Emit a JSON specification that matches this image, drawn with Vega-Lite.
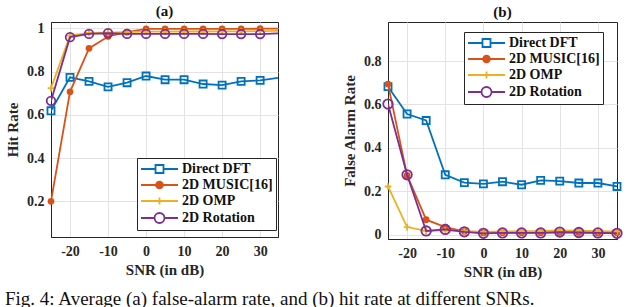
{
  "$schema": "https://vega.github.io/schema/vega-lite/v6.json",
  "padding": {"left": 5, "top": 3, "right": 0, "bottom": 0},
  "background": "white",
  "datasets": {
    "a": [
      {"snr": -25, "series": "Direct DFT", "value": 0.619},
      {"snr": -20, "series": "Direct DFT", "value": 0.774},
      {"snr": -15, "series": "Direct DFT", "value": 0.755},
      {"snr": -10, "series": "Direct DFT", "value": 0.73},
      {"snr": -5, "series": "Direct DFT", "value": 0.749},
      {"snr": 0, "series": "Direct DFT", "value": 0.78},
      {"snr": 5, "series": "Direct DFT", "value": 0.763},
      {"snr": 10, "series": "Direct DFT", "value": 0.763},
      {"snr": 15, "series": "Direct DFT", "value": 0.743},
      {"snr": 20, "series": "Direct DFT", "value": 0.738},
      {"snr": 25, "series": "Direct DFT", "value": 0.755},
      {"snr": 30, "series": "Direct DFT", "value": 0.76},
      {"snr": 35, "series": "Direct DFT", "value": 0.772},
      {"snr": -25, "series": "2D MUSIC[16]", "value": 0.2},
      {"snr": -20, "series": "2D MUSIC[16]", "value": 0.707},
      {"snr": -15, "series": "2D MUSIC[16]", "value": 0.908},
      {"snr": -10, "series": "2D MUSIC[16]", "value": 0.963},
      {"snr": -5, "series": "2D MUSIC[16]", "value": 0.983},
      {"snr": 0, "series": "2D MUSIC[16]", "value": 0.998},
      {"snr": 5, "series": "2D MUSIC[16]", "value": 0.998},
      {"snr": 10, "series": "2D MUSIC[16]", "value": 0.998},
      {"snr": 15, "series": "2D MUSIC[16]", "value": 0.998},
      {"snr": 20, "series": "2D MUSIC[16]", "value": 0.998},
      {"snr": 25, "series": "2D MUSIC[16]", "value": 0.998},
      {"snr": 30, "series": "2D MUSIC[16]", "value": 0.999},
      {"snr": 35, "series": "2D MUSIC[16]", "value": 0.999},
      {"snr": -25, "series": "2D OMP", "value": 0.724},
      {"snr": -20, "series": "2D OMP", "value": 0.967},
      {"snr": -15, "series": "2D OMP", "value": 0.979},
      {"snr": -10, "series": "2D OMP", "value": 0.981},
      {"snr": -5, "series": "2D OMP", "value": 0.983},
      {"snr": 0, "series": "2D OMP", "value": 0.985},
      {"snr": 5, "series": "2D OMP", "value": 0.985},
      {"snr": 10, "series": "2D OMP", "value": 0.986},
      {"snr": 15, "series": "2D OMP", "value": 0.986},
      {"snr": 20, "series": "2D OMP", "value": 0.987},
      {"snr": 25, "series": "2D OMP", "value": 0.987},
      {"snr": 30, "series": "2D OMP", "value": 0.988},
      {"snr": 35, "series": "2D OMP", "value": 0.989},
      {"snr": -25, "series": "2D Rotation", "value": 0.665},
      {"snr": -20, "series": "2D Rotation", "value": 0.96},
      {"snr": -15, "series": "2D Rotation", "value": 0.975},
      {"snr": -10, "series": "2D Rotation", "value": 0.978},
      {"snr": -5, "series": "2D Rotation", "value": 0.975},
      {"snr": 0, "series": "2D Rotation", "value": 0.975},
      {"snr": 5, "series": "2D Rotation", "value": 0.975},
      {"snr": 10, "series": "2D Rotation", "value": 0.975},
      {"snr": 15, "series": "2D Rotation", "value": 0.975},
      {"snr": 20, "series": "2D Rotation", "value": 0.974},
      {"snr": 25, "series": "2D Rotation", "value": 0.974},
      {"snr": 30, "series": "2D Rotation", "value": 0.974},
      {"snr": 35, "series": "2D Rotation", "value": 0.978}
    ],
    "b": [
      {"snr": -25, "series": "Direct DFT", "value": 0.682},
      {"snr": -20, "series": "Direct DFT", "value": 0.556},
      {"snr": -15, "series": "Direct DFT", "value": 0.526},
      {"snr": -10, "series": "Direct DFT", "value": 0.276},
      {"snr": -5, "series": "Direct DFT", "value": 0.24},
      {"snr": 0, "series": "Direct DFT", "value": 0.234},
      {"snr": 5, "series": "Direct DFT", "value": 0.244},
      {"snr": 10, "series": "Direct DFT", "value": 0.23},
      {"snr": 15, "series": "Direct DFT", "value": 0.25},
      {"snr": 20, "series": "Direct DFT", "value": 0.247},
      {"snr": 25, "series": "Direct DFT", "value": 0.238},
      {"snr": 30, "series": "Direct DFT", "value": 0.238},
      {"snr": 35, "series": "Direct DFT", "value": 0.222},
      {"snr": -25, "series": "2D MUSIC[16]", "value": 0.694},
      {"snr": -20, "series": "2D MUSIC[16]", "value": 0.273},
      {"snr": -15, "series": "2D MUSIC[16]", "value": 0.069},
      {"snr": -10, "series": "2D MUSIC[16]", "value": 0.035},
      {"snr": -5, "series": "2D MUSIC[16]", "value": 0.015},
      {"snr": 0, "series": "2D MUSIC[16]", "value": 0.008},
      {"snr": 5, "series": "2D MUSIC[16]", "value": 0.009},
      {"snr": 10, "series": "2D MUSIC[16]", "value": 0.009},
      {"snr": 15, "series": "2D MUSIC[16]", "value": 0.009},
      {"snr": 20, "series": "2D MUSIC[16]", "value": 0.011},
      {"snr": 25, "series": "2D MUSIC[16]", "value": 0.01},
      {"snr": 30, "series": "2D MUSIC[16]", "value": 0.008},
      {"snr": 35, "series": "2D MUSIC[16]", "value": 0.008},
      {"snr": -25, "series": "2D OMP", "value": 0.222},
      {"snr": -20, "series": "2D OMP", "value": 0.035},
      {"snr": -15, "series": "2D OMP", "value": 0.017},
      {"snr": -10, "series": "2D OMP", "value": 0.02},
      {"snr": -5, "series": "2D OMP", "value": 0.017},
      {"snr": 0, "series": "2D OMP", "value": 0.013},
      {"snr": 5, "series": "2D OMP", "value": 0.015},
      {"snr": 10, "series": "2D OMP", "value": 0.016},
      {"snr": 15, "series": "2D OMP", "value": 0.017},
      {"snr": 20, "series": "2D OMP", "value": 0.02},
      {"snr": 25, "series": "2D OMP", "value": 0.018},
      {"snr": 30, "series": "2D OMP", "value": 0.016},
      {"snr": 35, "series": "2D OMP", "value": 0.015},
      {"snr": -25, "series": "2D Rotation", "value": 0.602},
      {"snr": -20, "series": "2D Rotation", "value": 0.276},
      {"snr": -15, "series": "2D Rotation", "value": 0.017},
      {"snr": -10, "series": "2D Rotation", "value": 0.024},
      {"snr": -5, "series": "2D Rotation", "value": 0.013},
      {"snr": 0, "series": "2D Rotation", "value": 0.006},
      {"snr": 5, "series": "2D Rotation", "value": 0.008},
      {"snr": 10, "series": "2D Rotation", "value": 0.008},
      {"snr": 15, "series": "2D Rotation", "value": 0.008},
      {"snr": 20, "series": "2D Rotation", "value": 0.012},
      {"snr": 25, "series": "2D Rotation", "value": 0.01},
      {"snr": 30, "series": "2D Rotation", "value": 0.008},
      {"snr": 35, "series": "2D Rotation", "value": 0.006}
    ]
  },
  "title": {
    "text": "Fig. 4: Average (a) false-alarm rate, and (b) hit rate at different SNRs.",
    "orient": "bottom",
    "anchor": "start",
    "font": "Liberation Serif",
    "fontSize": 19,
    "fontWeight": "normal",
    "color": "#111",
    "offset": 10
  },
  "config": {
    "font": "Liberation Serif",
    "view": {"stroke": "#262626", "strokeWidth": 1},
    "axis": {
      "labelFont": "Liberation Serif",
      "labelFontSize": 14,
      "labelFontWeight": "bold",
      "labelColor": "#262626",
      "titleFont": "Liberation Serif",
      "titleFontSize": 15,
      "titleFontWeight": "bold",
      "titleColor": "#262626",
      "domainColor": "#262626",
      "tickColor": "#262626",
      "tickSize": 0,
      "gridColor": "#e3e3e3",
      "gridWidth": 1,
      "labelPadding": 7
    },
    "title": {"font": "Liberation Serif", "fontSize": 15, "fontWeight": "bold", "color": "#111", "offset": 2},
    "legend": {
      "labelFont": "Liberation Serif",
      "labelFontSize": 14,
      "labelFontWeight": "bold",
      "labelColor": "#111",
      "fillColor": "white",
      "strokeColor": "#262626",
      "padding": 3,
      "rowPadding": 0,
      "symbolSize": 196,
      "symbolStrokeWidth": 1.8,
      "symbolOpacity": 1,
      "labelOffset": 26,
      "title": null
    }
  },
  "spacing": 50,
  "resolve": {
    "scale": {"color": "independent", "shape": "independent"},
    "legend": {"color": "independent", "shape": "independent"}
  },
  "hconcat": [
    {
      "title": "(a)",
      "width": 227,
      "height": 215,
      "data": {"name": "a"},
      "encoding": {
        "x": {"field": "snr", "type": "quantitative", "scale": {"domain": [-25, 34.7], "nice": false, "zero": false}, "axis": {"values": [-20, -10, 0, 10, 20, 30], "labelExpr": "replace(datum.label, '\u2212', '-')", "title": "SNR (in dB)", "titlePadding": 4}},
        "y": {"field": "value", "type": "quantitative", "scale": {"domain": [0.035, 1.03], "nice": false, "zero": false}, "axis": {"values": [0.2, 0.4, 0.6, 0.8, 1], "format": "~g", "title": "Hit Rate", "titlePadding": 6}}
      },
      "layer": [
        {
          "mark": {"type": "point", "filled": false, "opacity": 0},
          "encoding": {
            "color": {"field": "series", "type": "nominal", "sort": ["Direct DFT", "2D MUSIC[16]", "2D OMP", "2D Rotation"],
              "scale": {"domain": ["Direct DFT", "2D MUSIC[16]", "2D OMP", "2D Rotation"], "range": ["#0072BD", "#D95319", "#EDB120", "#7E2F8E"]},
              "legend": {"orient": "none", "legendX": 86, "legendY": 136}},
            "shape": {"field": "series", "type": "nominal",
              "scale": {"domain": ["Direct DFT", "2D MUSIC[16]", "2D OMP", "2D Rotation"], "range": [
                "M-1,0H1.072M2.214,0H4.286M1.072,-0.571H2.214V0.571H1.072Z",
                "M-1,0H4.286M1.157,0A0.486,0.486 0 1,0 2.129,0A0.486,0.486 0 1,0 1.157,0M1.386,0A0.257,0.257 0 1,0 1.9,0A0.257,0.257 0 1,0 1.386,0M1.586,0A0.057,0.057 0 1,0 1.7,0A0.057,0.057 0 1,0 1.586,0",
                "M-1,0H4.286M1.643,-0.5V0.5",
                "M-1,0H0.929M2.357,0H4.286M0.929,0A0.714,0.714 0 1,0 2.357,0A0.714,0.714 0 1,0 0.929,0Z"]},
              "legend": {"orient": "none", "legendX": 86, "legendY": 136}}
          }
        },
        {"transform": [{"filter": {"field": "series", "equal": "Direct DFT"}}], "mark": {"type": "line", "color": "#0072BD", "strokeWidth": 1.8, "clip": true}, "encoding": {"order": {"field": "snr", "type": "quantitative"}}},
        {"transform": [{"filter": {"and": [{"field": "series", "equal": "Direct DFT"}, {"field": "snr", "lte": 30}]}}], "mark": {"type": "point", "shape": "square", "filled": false, "color": "#0072BD", "strokeWidth": 1.8, "size": 50, "opacity": 1}},
        {"transform": [{"filter": {"field": "series", "equal": "2D MUSIC[16]"}}], "mark": {"type": "line", "color": "#D95319", "strokeWidth": 1.8, "clip": true}, "encoding": {"order": {"field": "snr", "type": "quantitative"}}},
        {"transform": [{"filter": {"and": [{"field": "series", "equal": "2D MUSIC[16]"}, {"field": "snr", "lte": 30}]}}], "mark": {"type": "point", "shape": "circle", "filled": true, "color": "#D95319", "size": 45, "opacity": 1}},
        {"transform": [{"filter": {"field": "series", "equal": "2D OMP"}}], "mark": {"type": "line", "color": "#EDB120", "strokeWidth": 1.8, "clip": true}, "encoding": {"order": {"field": "snr", "type": "quantitative"}}},
        {"transform": [{"filter": {"and": [{"field": "series", "equal": "2D OMP"}, {"field": "snr", "lte": 30}]}}], "mark": {"type": "point", "shape": "M-1,0H1M0,-1V1", "filled": false, "color": "#EDB120", "strokeWidth": 1.8, "size": 45, "opacity": 1}},
        {"transform": [{"filter": {"field": "series", "equal": "2D Rotation"}}], "mark": {"type": "line", "color": "#7E2F8E", "strokeWidth": 1.8, "clip": true}, "encoding": {"order": {"field": "snr", "type": "quantitative"}}},
        {"transform": [{"filter": {"and": [{"field": "series", "equal": "2D Rotation"}, {"field": "snr", "lte": 30}]}}], "mark": {"type": "point", "shape": "circle", "filled": false, "color": "#7E2F8E", "strokeWidth": 1.8, "size": 75, "opacity": 1}}
      ]
    },
    {
      "title": "(b)",
      "width": 229,
      "height": 217,
      "data": {"name": "b"},
      "encoding": {
        "x": {"field": "snr", "type": "quantitative", "scale": {"domain": [-25, 35], "nice": false, "zero": false}, "axis": {"values": [-20, -10, 0, 10, 20, 30], "labelExpr": "replace(datum.label, '\u2212', '-')", "title": "SNR (in dB)", "titlePadding": 4}},
        "y": {"field": "value", "type": "quantitative", "scale": {"domain": [-0.02, 0.98], "nice": false, "zero": false}, "axis": {"values": [0, 0.2, 0.4, 0.6, 0.8], "format": "~g", "title": "False Alarm Rate", "titlePadding": 6}}
      },
      "layer": [
        {
          "mark": {"type": "point", "filled": false, "opacity": 0},
          "encoding": {
            "color": {"field": "series", "type": "nominal", "sort": ["Direct DFT", "2D MUSIC[16]", "2D OMP", "2D Rotation"],
              "scale": {"domain": ["Direct DFT", "2D MUSIC[16]", "2D OMP", "2D Rotation"], "range": ["#0072BD", "#D95319", "#EDB120", "#7E2F8E"]},
              "legend": {"orient": "none", "legendX": 76, "legendY": 10}},
            "shape": {"field": "series", "type": "nominal",
              "scale": {"domain": ["Direct DFT", "2D MUSIC[16]", "2D OMP", "2D Rotation"], "range": [
                "M-1,0H1.072M2.214,0H4.286M1.072,-0.571H2.214V0.571H1.072Z",
                "M-1,0H4.286M1.157,0A0.486,0.486 0 1,0 2.129,0A0.486,0.486 0 1,0 1.157,0M1.386,0A0.257,0.257 0 1,0 1.9,0A0.257,0.257 0 1,0 1.386,0M1.586,0A0.057,0.057 0 1,0 1.7,0A0.057,0.057 0 1,0 1.586,0",
                "M-1,0H4.286M1.643,-0.5V0.5",
                "M-1,0H0.929M2.357,0H4.286M0.929,0A0.714,0.714 0 1,0 2.357,0A0.714,0.714 0 1,0 0.929,0Z"]},
              "legend": {"orient": "none", "legendX": 76, "legendY": 10}}
          }
        },
        {"transform": [{"filter": {"field": "series", "equal": "Direct DFT"}}], "mark": {"type": "line", "color": "#0072BD", "strokeWidth": 1.8, "clip": true}, "encoding": {"order": {"field": "snr", "type": "quantitative"}}},
        {"transform": [{"filter": {"field": "series", "equal": "Direct DFT"}}], "mark": {"type": "point", "shape": "square", "filled": false, "color": "#0072BD", "strokeWidth": 1.8, "size": 50, "opacity": 1}},
        {"transform": [{"filter": {"field": "series", "equal": "2D MUSIC[16]"}}], "mark": {"type": "line", "color": "#D95319", "strokeWidth": 1.8, "clip": true}, "encoding": {"order": {"field": "snr", "type": "quantitative"}}},
        {"transform": [{"filter": {"field": "series", "equal": "2D MUSIC[16]"}}], "mark": {"type": "point", "shape": "circle", "filled": true, "color": "#D95319", "size": 45, "opacity": 1}},
        {"transform": [{"filter": {"field": "series", "equal": "2D OMP"}}], "mark": {"type": "line", "color": "#EDB120", "strokeWidth": 1.8, "clip": true}, "encoding": {"order": {"field": "snr", "type": "quantitative"}}},
        {"transform": [{"filter": {"field": "series", "equal": "2D OMP"}}], "mark": {"type": "point", "shape": "M-1,0H1M0,-1V1", "filled": false, "color": "#EDB120", "strokeWidth": 1.8, "size": 45, "opacity": 1}},
        {"transform": [{"filter": {"field": "series", "equal": "2D Rotation"}}], "mark": {"type": "line", "color": "#7E2F8E", "strokeWidth": 1.8, "clip": true}, "encoding": {"order": {"field": "snr", "type": "quantitative"}}},
        {"transform": [{"filter": {"field": "series", "equal": "2D Rotation"}}], "mark": {"type": "point", "shape": "circle", "filled": false, "color": "#7E2F8E", "strokeWidth": 1.8, "size": 90, "opacity": 1}}
      ]
    }
  ]
}
